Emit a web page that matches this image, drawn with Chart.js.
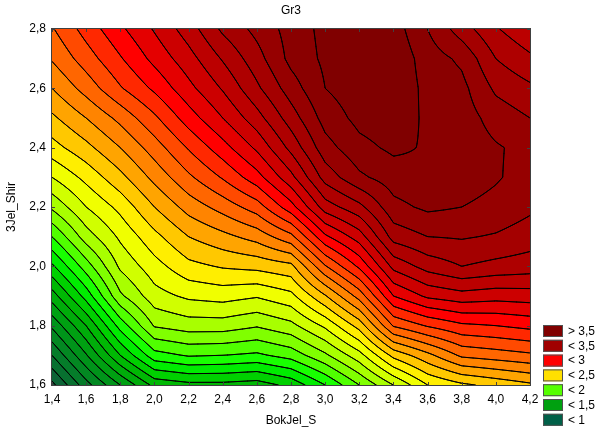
<!DOCTYPE html>
<html>
<head>
<meta charset="utf-8">
<style>
html,body{margin:0;padding:0;background:#ffffff;}
#wrap{width:606px;height:431px;}
</style>
<script src="https://cdn.jsdelivr.net/npm/chart.js@4.4.1/dist/chart.umd.min.js"></script>
</head>
<body>
<div id="wrap"><canvas id="c" width="606" height="431"></canvas></div>
<script>
// ---------- data ----------
const chartTitle = 'Gr3';
const xAxisTitle = 'BokJel_S';
const yAxisTitle = '3Jel_Shir';

const xValues = [1.4, 1.6, 1.8, 2.0, 2.2, 2.4, 2.6, 2.8, 3.0, 3.2, 3.4, 3.6, 3.8, 4.0, 4.2];
const yValues = [1.6, 1.7, 1.8, 1.9, 2.0, 2.1, 2.2, 2.3, 2.4, 2.5, 2.6, 2.7, 2.8];

// z values, one row per y value (columns follow xValues)
const zRow16 = [0.57, 0.86, 1.10, 1.33, 1.37, 1.37, 1.35, 1.43, 1.60, 1.80, 2.00, 2.20, 2.28, 2.33, 2.38];
const zRow17 = [0.80, 1.09, 1.40, 1.66, 1.71, 1.70, 1.68, 1.74, 1.88, 2.06, 2.33, 2.47, 2.62, 2.65, 2.68];
const zRow18 = [1.02, 1.30, 1.64, 1.91, 1.95, 1.95, 1.91, 1.97, 2.12, 2.34, 2.71, 2.81, 2.88, 2.90, 2.93];
const zRow19 = [1.25, 1.54, 1.88, 2.06, 2.12, 2.14, 2.11, 2.17, 2.39, 2.64, 3.00, 3.12, 3.16, 3.14, 3.15];
const zRow20 = [1.48, 1.75, 2.02, 2.16, 2.27, 2.31, 2.33, 2.37, 2.69, 2.92, 3.23, 3.34, 3.40, 3.37, 3.35];
const zRow21 = [1.70, 1.95, 2.12, 2.27, 2.40, 2.47, 2.54, 2.67, 2.98, 3.15, 3.44, 3.50, 3.51, 3.49, 3.45];
const zRow22 = [1.92, 2.10, 2.23, 2.40, 2.54, 2.64, 2.75, 2.96, 3.25, 3.37, 3.57, 3.62, 3.60, 3.57, 3.52];
const zRow23 = [2.10, 2.23, 2.37, 2.53, 2.68, 2.81, 2.96, 3.17, 3.44, 3.58, 3.65, 3.68, 3.65, 3.61, 3.56];
const zRow24 = [2.26, 2.37, 2.50, 2.65, 2.81, 2.96, 3.12, 3.33, 3.56, 3.67, 3.72, 3.69, 3.66, 3.61, 3.57];
const zRow25 = [2.38, 2.50, 2.63, 2.78, 2.95, 3.10, 3.26, 3.45, 3.64, 3.73, 3.76, 3.68, 3.65, 3.56, 3.50];
const zRow26 = [2.50, 2.64, 2.79, 2.92, 3.07, 3.21, 3.38, 3.55, 3.70, 3.76, 3.78, 3.67, 3.63, 3.48, 3.42];
const zRow27 = [2.61, 2.75, 2.89, 3.03, 3.16, 3.31, 3.46, 3.63, 3.72, 3.77, 3.78, 3.65, 3.58, 3.40, 3.32];
const zRow28 = [2.69, 2.84, 2.98, 3.11, 3.25, 3.42, 3.53, 3.64, 3.73, 3.77, 3.75, 3.60, 3.45, 3.31, 3.22];
const zGrid = [zRow16, zRow17, zRow18, zRow19, zRow20, zRow21, zRow22, zRow23, zRow24, zRow25, zRow26, zRow27, zRow28];

const contourLevels = [0.6, 0.7, 0.8, 0.9, 1.0, 1.1, 1.2, 1.3, 1.4, 1.5, 1.6, 1.7, 1.8, 1.9, 2.0, 2.1,
                       2.2, 2.3, 2.4, 2.5, 2.6, 2.7, 2.8, 2.9, 3.0, 3.1, 3.2, 3.3, 3.4, 3.5, 3.6, 3.7];
// band colours: below first level, then one per level (value >= level)
const bandColors = ['#0f5a3a', '#0c6436', '#087030', '#057c2a', '#038822', '#00941a', '#00a012', '#00ac0a',
                    '#00b804', '#00d000', '#00ec00', '#18ff00', '#50ff00', '#80ff00', '#a8ff00', '#d0ff00',
                    '#f0ff00', '#ffee00', '#ffc800', '#ffa400', '#ff8400', '#ff6600', '#ff4a00', '#ff2800',
                    '#ff0000', '#e40000', '#cc0000', '#bb0000', '#ae0000', '#a40000', '#960000', '#8a0000', '#800000'];

const xTicks = [1.4, 1.6, 1.8, 2.0, 2.2, 2.4, 2.6, 2.8, 3.0, 3.2, 3.4, 3.6, 3.8, 4.0, 4.2];
const xTickLabels = ['1,4', '1,6', '1,8', '2,0', '2,2', '2,4', '2,6', '2,8', '3,0', '3,2', '3,4', '3,6', '3,8', '4,0', '4,2'];
const yTicks = [1.6, 1.8, 2.0, 2.2, 2.4, 2.6, 2.8];
const yTickLabels = ['1,6', '1,8', '2,0', '2,2', '2,4', '2,6', '2,8'];

const legendLabels = ['> 3,5', '< 3,5', '< 3', '< 2,5', '< 2', '< 1,5', '< 1'];
const legendColors = ['#800000', '#a00000', '#ff0000', '#ffe000', '#55ff00', '#00a010', '#006048'];

// ---------- helpers ----------
const FONT = "'Liberation Sans', Arial, Helvetica, sans-serif";

function hexToRgb(h) {
  const n = parseInt(h.slice(1), 16);
  return [(n >> 16) & 255, (n >> 8) & 255, n & 255];
}
const bandRgb = bandColors.map(hexToRgb);

function locate(arr, v) {
  const n = arr.length;
  if (v <= arr[0]) return 0;
  for (let k = 0; k < n - 1; k++) { if (v <= arr[k + 1]) return k; }
  return n - 2;
}
function zAt(xv, yv) {
  const i = locate(xValues, xv), j = locate(yValues, yv);
  let tx = (xv - xValues[i]) / (xValues[i + 1] - xValues[i]);
  let ty = (yv - yValues[j]) / (yValues[j + 1] - yValues[j]);
  tx = Math.max(0, Math.min(1, tx)); ty = Math.max(0, Math.min(1, ty));
  const z00 = zGrid[j][i], z10 = zGrid[j][i + 1], z01 = zGrid[j + 1][i], z11 = zGrid[j + 1][i + 1];
  return z00 * (1 - tx) * (1 - ty) + z10 * tx * (1 - ty) + z01 * (1 - tx) * ty + z11 * tx * ty;
}
function bandIndex(z) {
  let k = 0;
  while (k < contourLevels.length && z >= contourLevels[k]) k++;
  return k;
}

const contourPlugin = {
  id: 'contourPlugin',
  beforeDatasetsDraw(chart) {
    const ctx = chart.ctx;
    const area = chart.chartArea;
    const xs = chart.scales.x, ys = chart.scales.y;
    const w = area.right - area.left, h = area.bottom - area.top;
    const dpr = chart.currentDevicePixelRatio || 1;

    // ---- filled bands (per device pixel, through the scales) ----
    const W = Math.round(w * dpr), H = Math.round(h * dpr);
    const off = document.createElement('canvas');
    off.width = W; off.height = H;
    const octx = off.getContext('2d');
    const img = octx.createImageData(W, H);
    const colX = new Float64Array(W), rowY = new Float64Array(H);
    for (let a = 0; a < W; a++) colX[a] = xs.getValueForPixel(area.left + (a + 0.5) / dpr);
    for (let b = 0; b < H; b++) rowY[b] = ys.getValueForPixel(area.top + (b + 0.5) / dpr);
    let p = 0;
    for (let b = 0; b < H; b++) {
      for (let a = 0; a < W; a++) {
        const c = bandRgb[bandIndex(zAt(colX[a], rowY[b]))];
        img.data[p++] = c[0]; img.data[p++] = c[1]; img.data[p++] = c[2]; img.data[p++] = 255;
      }
    }
    octx.putImageData(img, 0, 0);
    ctx.save();
    ctx.drawImage(off, area.left, area.top, w, h);

    // ---- contour lines (marching squares on scale-sampled values) ----
    const step = 1;
    const nx = Math.ceil(w / step) + 1, ny = Math.ceil(h / step) + 1;
    const px = [], py = [];
    for (let c = 0; c < nx; c++) px.push(Math.min(area.left + c * step, area.right));
    for (let r = 0; r < ny; r++) py.push(Math.min(area.top + r * step, area.bottom));
    const V = [];
    for (let r = 0; r < ny; r++) {
      const yv = ys.getValueForPixel(py[r]);
      const row = new Float64Array(nx);
      for (let c = 0; c < nx; c++) row[c] = zAt(xs.getValueForPixel(px[c]), yv);
      V.push(row);
    }
    ctx.beginPath();
    ctx.rect(area.left, area.top, w, h);
    ctx.clip();
    ctx.strokeStyle = '#000000';
    ctx.lineWidth = 1;
    ctx.lineCap = 'round';
    ctx.lineJoin = 'round';
    for (const L of contourLevels) {
      ctx.beginPath();
      for (let r = 0; r < ny - 1; r++) {
        const y0 = py[r], y1 = py[r + 1];
        for (let c = 0; c < nx - 1; c++) {
          const a = V[r][c], b = V[r][c + 1], cc = V[r + 1][c + 1], d = V[r + 1][c];
          const idx = (a >= L ? 8 : 0) | (b >= L ? 4 : 0) | (cc >= L ? 2 : 0) | (d >= L ? 1 : 0);
          if (idx === 0 || idx === 15) continue;
          const x0 = px[c], x1 = px[c + 1];
          const top = () => [x0 + (x1 - x0) * (L - a) / (b - a), y0];
          const right = () => [x1, y0 + (y1 - y0) * (L - b) / (cc - b)];
          const bottom = () => [x0 + (x1 - x0) * (L - d) / (cc - d), y1];
          const left = () => [x0, y0 + (y1 - y0) * (L - a) / (d - a)];
          const seg = (P, Q) => { ctx.moveTo(P[0], P[1]); ctx.lineTo(Q[0], Q[1]); };
          const center = (a + b + cc + d) / 4;
          switch (idx) {
            case 1: case 14: seg(left(), bottom()); break;
            case 2: case 13: seg(bottom(), right()); break;
            case 3: case 12: seg(left(), right()); break;
            case 4: case 11: seg(top(), right()); break;
            case 6: case 9: seg(top(), bottom()); break;
            case 7: case 8: seg(left(), top()); break;
            case 5:
              if (center >= L) { seg(left(), top()); seg(bottom(), right()); }
              else { seg(top(), right()); seg(left(), bottom()); }
              break;
            case 10:
              if (center >= L) { seg(top(), right()); seg(left(), bottom()); }
              else { seg(left(), top()); seg(bottom(), right()); }
              break;
          }
        }
      }
      ctx.stroke();
    }
    ctx.restore();

    // ---- frame and inward ticks ----
    ctx.save();
    ctx.strokeStyle = '#404040';
    ctx.lineWidth = 1;
    ctx.strokeRect(area.left - 0.5, area.top - 0.5, w + 1, h + 1);
    ctx.beginPath();
    for (const t of xTicks) {
      const X = Math.round(xs.getPixelForValue(t)) + 0.5;
      ctx.moveTo(X, area.bottom); ctx.lineTo(X, area.bottom - 3);
      ctx.moveTo(X, area.top); ctx.lineTo(X, area.top + 3);
    }
    for (const t of yTicks) {
      const Y = Math.round(ys.getPixelForValue(t)) + 0.5;
      ctx.moveTo(area.left, Y); ctx.lineTo(area.left + 3, Y);
      ctx.moveTo(area.right, Y); ctx.lineTo(area.right - 3, Y);
    }
    ctx.stroke();
    ctx.restore();
  },
  afterDraw(chart) {
    const ctx = chart.ctx;
    const area = chart.chartArea;
    ctx.save();
    // title
    ctx.fillStyle = '#000000';
    ctx.font = '12px ' + FONT;
    ctx.textAlign = 'center';
    ctx.textBaseline = 'middle';
    ctx.fillText(chartTitle, (area.left + area.right) / 2, 11);
    // legend
    const boxX = area.right + 13, boxW = 20, boxH = 12, gap = 14.8;
    const firstTop = area.bottom - 60;
    ctx.textAlign = 'left';
    for (let k = 0; k < legendLabels.length; k++) {
      const top = firstTop + k * gap;
      ctx.fillStyle = legendColors[k];
      ctx.fillRect(boxX, top, boxW, boxH);
      ctx.strokeStyle = '#505050';
      ctx.lineWidth = 1;
      ctx.strokeRect(boxX + 0.5, top + 0.5, boxW - 1, boxH - 1);
      ctx.fillStyle = '#000000';
      ctx.fillText(legendLabels[k], boxX + 25, top + boxH / 2 + 0.5);
    }
    ctx.restore();
  }
};

const gridPoints = [];
for (let j = 0; j < yValues.length; j++) {
  for (let i = 0; i < xValues.length; i++) {
    gridPoints.push({ x: xValues[i], y: yValues[j], z: zGrid[j][i] });
  }
}

Chart.defaults.font.family = FONT;
Chart.defaults.font.size = 12;
Chart.defaults.color = '#000000';

new Chart(document.getElementById('c'), {
  type: 'scatter',
  data: { datasets: [{ label: chartTitle, data: gridPoints, pointRadius: 0, pointHoverRadius: 0 }] },
  options: {
    responsive: false,
    animation: false,
    events: [],
    layout: { padding: { top: 29, right: 76, left: 0, bottom: 0 } },
    plugins: { legend: { display: false }, tooltip: { enabled: false }, title: { display: false } },
    scales: {
      x: {
        type: 'linear', min: 1.4, max: 4.2,
        afterBuildTicks: (s) => { s.ticks = xTicks.map(v => ({ value: v })); },
        afterFit: (s) => { s.height = 46; },
        ticks: { callback: (v, i) => xTickLabels[i], padding: 7, maxRotation: 0, autoSkip: false, color: '#000000', font: { size: 12 } },
        grid: { display: false, drawTicks: false },
        border: { display: false },
        title: { display: true, text: xAxisTitle, color: '#000000', font: { size: 12 }, padding: { top: 0, bottom: 3 } }
      },
      y: {
        type: 'linear', min: 1.6, max: 2.8,
        afterBuildTicks: (s) => { s.ticks = yTicks.map(v => ({ value: v })); },
        afterFit: (s) => { s.width = 52; },
        ticks: { callback: (v, i) => yTickLabels[i], padding: 6, autoSkip: false, color: '#000000', font: { size: 12 } },
        grid: { display: false, drawTicks: false },
        border: { display: false },
        title: { display: true, text: yAxisTitle, color: '#000000', font: { size: 12 }, padding: { top: 4, bottom: 4 } }
      }
    }
  },
  plugins: [contourPlugin]
});
</script>
</body>
</html>
